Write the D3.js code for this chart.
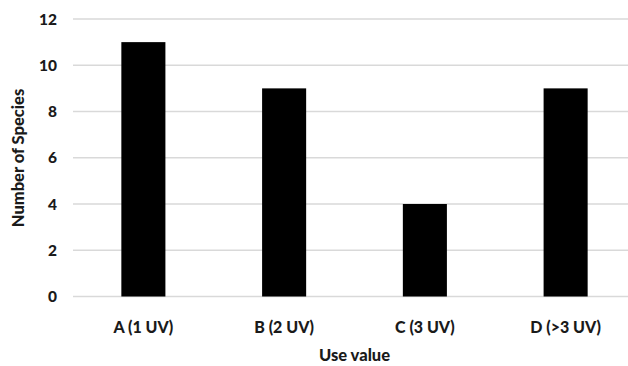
<!DOCTYPE html>
<html><head><meta charset="utf-8">
<script src="https://cdn.jsdelivr.net/npm/d3@7"></script>
<style>body{margin:0;background:#fff}svg{display:block}</style>
</head><body>
<svg id="c" width="628" height="366"></svg>
<script>
const categories = ["A (1 UV)", "B (2 UV)", "C (3 UV)", "D (>3 UV)"];
const values = [11, 9, 4, 9];
const yTicks = [0, 2, 4, 6, 8, 10, 12];
const xTitle = "Use value";
const yTitle = "Number of Species";

const svg = d3.select("#c");
const font = "Lato, 'Open Sans', sans-serif";
const x = d3.scaleBand().domain(categories).range([73, 636]).paddingInner(0.687).paddingOuter(0.3435);
const y = d3.scaleLinear().domain([0, 12]).range([296.5, 19]);

svg.append("g").selectAll("line").data(yTicks).join("line")
  .attr("x1", 73).attr("x2", 636)
  .attr("y1", d => y(d)).attr("y2", d => y(d))
  .attr("stroke", "#d9d9d9").attr("stroke-width", 1.5);

svg.append("g").selectAll("rect").data(values).join("rect")
  .attr("x", (d, i) => x(categories[i]))
  .attr("width", x.bandwidth())
  .attr("y", d => y(d))
  .attr("height", d => y(0) - y(d))
  .attr("fill", "#000");

svg.append("g").selectAll("text").data(yTicks).join("text")
  .attr("x", 57).attr("y", d => y(d)).attr("dy", "0.36em")
  .attr("text-anchor", "end")
  .attr("font-family", font).attr("font-weight", "900").attr("font-size", 15.5)
  .attr("fill", "#1a1a1a").text(d => d);

svg.append("g").selectAll("text").data(categories).join("text")
  .attr("x", d => x(d) + x.bandwidth() / 2).attr("y", 333)
  .attr("text-anchor", "middle")
  .attr("font-family", font).attr("font-weight", "900").attr("font-size", 16)
  .attr("fill", "#1a1a1a").text(d => d);

svg.append("text").attr("x", 354.5).attr("y", 361)
  .attr("text-anchor", "middle")
  .attr("font-family", font).attr("font-weight", "900").attr("font-size", 16.5)
  .attr("fill", "#1a1a1a").text(xTitle);

svg.append("text").attr("transform", "translate(24,158) rotate(-90)")
  .attr("text-anchor", "middle")
  .attr("font-family", font).attr("font-weight", "900").attr("font-size", 16.5)
  .attr("fill", "#1a1a1a").text(yTitle);
</script>
</body></html>
